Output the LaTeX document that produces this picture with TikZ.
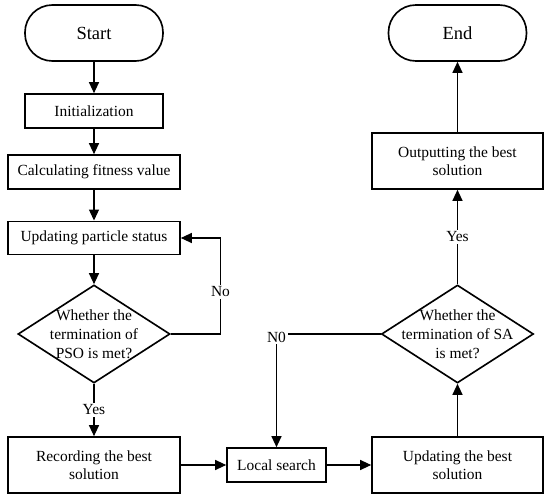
\documentclass[tikz,border=0pt]{standalone}
\usepackage{fontspec}
\setmainfont{Liberation Serif}
\usetikzlibrary{shapes.geometric,arrows.meta}
\begin{document}
\begin{tikzpicture}
                [x=0.03cm, y=-0.03cm,
                terminal/.style={draw, line width=1.4pt, rounded corners=0.82cm, minimum width=4.14cm, minimum height=1.68cm, font=\fontsize{15.8}{18}\selectfont},
                process/.style={draw, line width=1.4pt, align=center, inner sep=0pt, font=\fontsize{13.2}{15.5}\selectfont},
                decision/.style={draw, diamond, line width=1.4pt, inner sep=0pt, minimum width=4.56cm, minimum height=2.94cm},
                dtext/.style={align=center, inner sep=0pt, font=\fontsize{13.2}{16}\selectfont},
                tag/.style={fill=white, inner sep=1.5pt, font=\fontsize{13.2}{15.5}\selectfont},
                edge/.style={draw, line width=1pt, -{Triangle[length=0.33cm, width=0.3cm]}},
                line/.style={draw, line width=1pt}]
                \useasboundingbox (0,0) rectangle (550,499);
                % Define nodes
                \node[terminal] (Start) at (94,33) {Start};
                \node[process, minimum width=4.14cm, minimum height=1.02cm] (Init) at (94,111) {Initialization};
                \node[process, minimum width=5.16cm, minimum height=1.02cm] (Fitness) at (94,172) {Calculating fitness value};
                \node[process, minimum width=5.16cm, minimum height=1.0cm] (Particle) at (94,238) {Updating particle status};
                \node[decision] (PSO) at (94,334) {};
                \node[dtext] (PSO text) at (PSO) {Whether the\\termination of\\PSO is met?};
                \node[process, minimum width=5.16cm, minimum height=1.68cm] (Record) at (94,465) {Recording the best\\solution};
                \node[process, minimum width=2.97cm, minimum height=1.02cm] (Local) at (276.5,465) {Local search};
                \node[process, minimum width=5.13cm, minimum height=1.68cm] (Best) at (457.5,465) {Updating the best\\solution};
                \node[decision] (SA) at (457.5,334) {};
                \node[dtext] (SA text) at (SA) {Whether the\\termination of SA\\is met?};
                \node[process, minimum width=5.13cm, minimum height=1.68cm] (Output) at (457.5,161) {Outputting the best\\solution};
                \node[terminal] (End) at (457.5,33) {End};
                \coordinate (PSO corner) at (220.5,334);
                \coordinate (SA corner) at (276.5,334);
                % Define edges
                \draw[edge] (Start) -- (Init);
                \draw[edge] (Init) -- (Fitness);
                \draw[edge] (Fitness) -- (Particle);
                \draw[edge] (Particle) -- (PSO);
                \draw[edge] (PSO) -- node[tag, pos=0.5] (Yes 1) {Yes} (Record);
                \draw[edge] (PSO.east) -- (PSO corner) -- node[tag, pos=0.44] (No 1) {No} (PSO corner |- Particle.east) -- (Particle.east);
                \draw[edge] (Record) -- (Local);
                \draw[edge] (Local) -- (Best);
                \draw[edge] (Best) -- (SA);
                \draw[edge] (SA) -- node[tag, pos=0.5] (Yes 2) {Yes} (Output);
                \draw[edge] (Output) -- (End);
                \draw[edge] (SA.west) -- (SA corner) -- (Local.north);
                \node[tag, yshift=-0.1cm] (No 2) at (SA corner) {N0};
\end{tikzpicture}
\end{document}
